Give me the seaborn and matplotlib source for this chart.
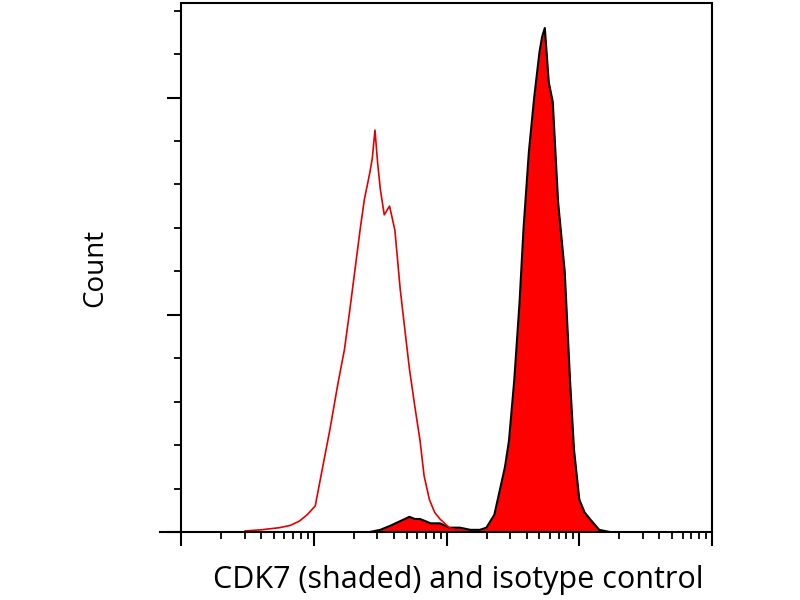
import numpy as np
import seaborn as sns
import matplotlib.pyplot as plt
from matplotlib.ticker import FixedLocator, MultipleLocator, NullFormatter

# isotype control (red open line): log10 intensity vs count
iso_log = [0.48, 0.60, 0.74, 0.82, 0.89, 0.95, 1.01, 1.06, 1.12, 1.18, 1.23, 1.27, 1.31, 1.35,
           1.38, 1.42, 1.44, 1.46, 1.48, 1.50, 1.53, 1.57, 1.61, 1.65, 1.68, 1.72, 1.76,
           1.80, 1.83, 1.87, 1.91, 1.95, 2.02, 2.10]
iso_cnt = [0.5, 1, 2, 3, 5, 8, 12, 28, 47, 68, 84, 102, 121, 140,
           153, 165, 172, 185, 170, 158, 146, 150, 139, 112, 96, 75, 58,
           42, 26, 15, 9, 6, 2, 0.5]

# CDK7 (shaded red with black outline)
cdk_log = [1.42, 1.50, 1.58, 1.65, 1.72, 1.76, 1.80, 1.88, 1.95, 2.02, 2.10, 2.18, 2.25,
           2.30, 2.36, 2.40, 2.44, 2.47, 2.51, 2.55, 2.58, 2.62, 2.66, 2.70, 2.72, 2.74,
           2.77, 2.80, 2.84, 2.89, 2.93, 2.96, 3.00, 3.04, 3.08, 3.15, 3.23]
cdk_cnt = [0, 1, 3, 5, 7, 6, 6, 4, 4, 2, 2, 1, 1,
           2, 8, 19, 30, 42, 70, 106, 140, 175, 200, 221, 228, 232,
           207, 198, 152, 120, 70, 38, 15, 9, 6, 1, 0]

sns.set_style("white")
plt.rcParams['font.family'] = ['Open Sans', 'DejaVu Sans']

fig = plt.figure(figsize=(8, 6), dpi=100)
ax = fig.add_axes([0.2, 0.1133, 0.69, 0.8817])

iso_x = 10 ** np.array(iso_log)
cdk_x = 10 ** np.array(cdk_log)
ax.fill_between(cdk_x, cdk_cnt, 0, color='#ff0000', lw=0)
sns.lineplot(x=cdk_x, y=cdk_cnt, color='black', lw=1.5, ax=ax, sort=False)
sns.lineplot(x=iso_x, y=iso_cnt, color='#e00000', lw=1.2, ax=ax, sort=False)

ax.set_xscale('log')
ax.set_xlim(10 ** -0.16, 10 ** 4)
ax.set_ylim(0, 243.5)
ax.spines['left'].set_position(('data', 1))
ax.spines['top'].set_visible(False)
for s in ax.spines.values():
    s.set_color('black')
    s.set_linewidth(1.5)
ax.plot([1, 10 ** 4], [243.5, 243.5], color='black', lw=1.5, clip_on=False)

major_x = [10.0 ** k for k in range(5)]
minor_x = [m * 10.0 ** k for k in range(4) for m in range(2, 10)]
ax.xaxis.set_major_locator(FixedLocator(major_x))
ax.xaxis.set_minor_locator(FixedLocator(minor_x))
ax.xaxis.set_major_formatter(NullFormatter())
ax.xaxis.set_minor_formatter(NullFormatter())
ax.yaxis.set_major_locator(MultipleLocator(100))
ax.yaxis.set_minor_locator(MultipleLocator(20))
ax.yaxis.set_major_formatter(NullFormatter())
ax.tick_params(axis='both', which='major', direction='out', length=10, width=1.5,
               color='black', bottom=True, left=True)
ax.tick_params(axis='both', which='minor', direction='out', length=5, width=1.3,
               color='black', bottom=True, left=True)

ax.set_xlabel('CDK7 (shaded) and isotype control', fontsize=22, color='black',
              labelpad=10, x=0.54)
ax.set_ylabel('Count', fontsize=20, color='black', labelpad=38)

fig.savefig('out.png', dpi=100)
